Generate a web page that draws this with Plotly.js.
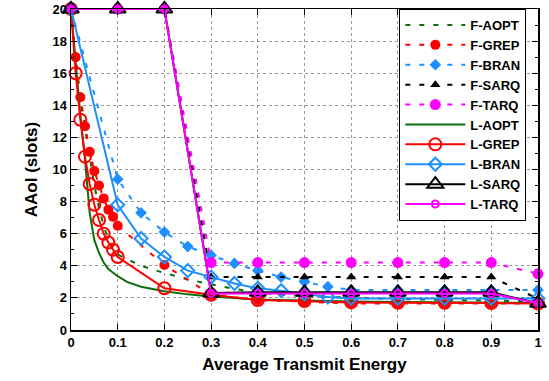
<!DOCTYPE html>
<html><head><meta charset="utf-8">
<script src="https://cdn.plot.ly/plotly-3.0.1.min.js"></script>
<style>html,body{margin:0;padding:0;background:#fff}#chart{width:549px;height:381px}</style>
</head><body><div id="chart"></div>
<script>
const seriesNames = ["F-AOPT","F-GREP","F-BRAN","F-SARQ","F-TARQ","L-AOPT","L-GREP","L-BRAN","L-SARQ","L-TARQ"];

const xAoptF = [0,0.01,0.02,0.03,0.04,0.05,0.06,0.07,0.08,0.1,0.15,0.2,0.25,0.3,0.35,0.4,0.45,0.5,0.6,0.7,0.8,0.9,1];
const yAoptF = [20,16.8,14.3,12.4,10.8,9.0,7.6,6.5,5.6,4.7,4.0,3.55,3.15,2.85,2.55,2.35,2.2,2.1,2.0,1.93,1.88,1.83,1.78];

const xGrepF = [0,0.01,0.02,0.03,0.04,0.05,0.06,0.07,0.08,0.09,0.1,0.2,0.3,0.4,0.5,0.6,0.7,0.8,0.9,1];
const yGrepF = [20,17.0,14.5,12.7,11.1,9.9,9.0,8.2,7.5,7.05,6.5,4.05,2.2,1.87,1.77,1.65,1.65,1.65,1.65,1.65];

const xBranF = [0,0.1,0.15,0.2,0.25,0.3,0.35,0.4,0.45,0.5,0.55,0.6,0.7,0.8,0.9,1];
const yBranF = [20,9.4,7.3,6.1,5.2,4.65,4.15,3.7,3.3,3.0,2.7,2.5,2.5,2.5,2.5,2.5];

const xSarqF = [0,0.1,0.2,0.3,0.4,0.5,0.6,0.7,0.8,0.9,1];
const ySarqF = [20,20,20,3.3,3.3,3.3,3.3,3.3,3.3,3.3,1.95];

const xTarqF = [0,0.1,0.2,0.3,0.4,0.5,0.6,0.7,0.8,0.9,1];
const yTarqF = [20,20,20,4.2,4.2,4.2,4.2,4.2,4.2,4.2,3.5];

const xAoptL = [0,0.01,0.02,0.03,0.04,0.05,0.06,0.07,0.08,0.1,0.12,0.15,0.2,0.25,0.3,0.4,0.5,0.6,0.7,0.8,0.9,1];
const yAoptL = [20,16.6,13.4,10.6,7.3,5.6,4.8,4.2,3.8,3.35,3.0,2.7,2.42,2.22,2.08,1.9,1.82,1.78,1.75,1.72,1.7,1.68];

const xGrepL = [0,0.01,0.02,0.03,0.04,0.05,0.06,0.07,0.08,0.09,0.1,0.2,0.3,0.4,0.5,0.6,0.7,0.8,0.9,1];
const yGrepL = [20,16.0,13.1,10.8,9.1,7.8,6.85,6.0,5.45,5.0,4.55,2.6,2.2,1.87,1.8,1.72,1.7,1.7,1.68,1.65];

const xBranL = [0,0.1,0.15,0.2,0.25,0.3,0.35,0.4,0.45,0.5,0.55,0.6,0.7,0.8,0.9,1];
const yBranL = [20,7.8,5.7,4.55,3.7,3.3,2.9,2.6,2.45,2.25,2.05,1.97,1.97,1.97,1.97,1.97];

const xSarqL = [0,0.1,0.2,0.3,0.4,0.5,0.6,0.7,0.8,0.9,1];
const ySarqL = [20,20,20,2.3,2.35,2.35,2.35,2.35,2.35,2.35,1.66];

const xTarqL = [0,0.1,0.2,0.3,0.4,0.5,0.6,0.7,0.8,0.9,1];
const yTarqL = [20,20,20,2.28,2.28,2.28,2.28,2.28,2.28,2.28,1.66];

const xTickVals = [0,0.1,0.2,0.3,0.4,0.5,0.6,0.7,0.8,0.9,1];
const xTickText = ["0","0.1","0.2","0.3","0.4","0.5","0.6","0.7","0.8","0.9","1"];
const yTickVals = [0,2,4,6,8,10,12,14,16,18,20];

const dashF = "5px,9px";
function tr(name, x, y, color, dash, mode, msym, msize, mlw) {
  return {
    type: "scatter", name: name, x: x, y: y, mode: mode,
    line: {color: color, width: 2, dash: dash},
    marker: {symbol: msym, size: msize, color: color, line: {color: color, width: mlw}},
    cliponaxis: false
  };
}
const data = [
  tr(seriesNames[0], xAoptF, yAoptF, "#0b6e0b", dashF, "lines", "circle", 1, 0),
  tr(seriesNames[1], xGrepF, yGrepF, "#ff0000", dashF, "lines+markers", "circle", 10, 0),
  tr(seriesNames[2], xBranF, yBranF, "#1e8fff", dashF, "lines+markers", "diamond", 9, 0),
  tr(seriesNames[3], xSarqF, ySarqF, "#000000", dashF, "lines+markers", "triangle-up", 9, 0),
  tr(seriesNames[4], xTarqF, yTarqF, "#ff00ff", dashF, "lines+markers", "circle", 11, 0),
  tr(seriesNames[5], xAoptL, yAoptL, "#0b6e0b", "solid", "lines", "circle", 1, 0),
  tr(seriesNames[6], xGrepL, yGrepL, "#ff0000", "solid", "lines+markers", "circle-open", 12, 2),
  tr(seriesNames[7], xBranL, yBranL, "#1e8fff", "solid", "lines+markers", "diamond-open", 10, 2),
  tr(seriesNames[8], xSarqL, ySarqL, "#000000", "solid", "lines+markers", "triangle-up-open", 14, 2),
  tr(seriesNames[9], xTarqL, yTarqL, "#ff00ff", "solid", "lines+markers", "circle-open", 7, 2)
];

const fontFam = "Liberation Sans, Arial, sans-serif";
const layout = {
  width: 549, height: 381,
  margin: {l: 71, r: 11, t: 9, b: 51},
  paper_bgcolor: "#fff", plot_bgcolor: "#fff",
  font: {family: fontFam, color: "#000", size: 13, weight: "bold"},
  showlegend: true,
  legend: {
    x: 0.975, xanchor: "right", y: 1.0, yanchor: "top",
    bgcolor: "#fff", bordercolor: "#000", borderwidth: 1,
    font: {family: fontFam, size: 13, color: "#000", weight: "bold"},
    itemwidth: 60, tracegroupgap: 0, maxheight: 1,
    traceorder: "normal"
  },
  xaxis: {
    range: [0, 1], tickvals: xTickVals, ticktext: xTickText,
    ticks: "inside", ticklen: 6, tickcolor: "#000",
    showline: true, linecolor: "#000", linewidth: 1.5, mirror: "ticks",
    showgrid: true, gridcolor: "#9a9a9a", griddash: "dot", gridwidth: 1,
    zeroline: false,
    tickfont: {family: fontFam, size: 13, weight: "bold"},
    title: {text: "Average Transmit Energy", font: {family: fontFam, size: 17, weight: "bold"}, standoff: 9}
  },
  yaxis: {
    range: [0, 20], tickvals: yTickVals,
    ticks: "inside", ticklen: 6, tickcolor: "#000",
    showline: true, linecolor: "#000", linewidth: 1.5, mirror: "ticks",
    showgrid: true, gridcolor: "#9a9a9a", griddash: "dot", gridwidth: 1,
    zeroline: false,
    minor: {dtick: 1, ticks: "inside", ticklen: 3, tickcolor: "#000", showgrid: false},
    tickfont: {family: fontFam, size: 13, weight: "bold"},
    title: {text: "AAoI (slots)", font: {family: fontFam, size: 17, weight: "bold"}, standoff: 10}
  }
};
Plotly.newPlot("chart", data, layout, {displayModeBar: false, staticPlot: true});
</script>
</body></html>
